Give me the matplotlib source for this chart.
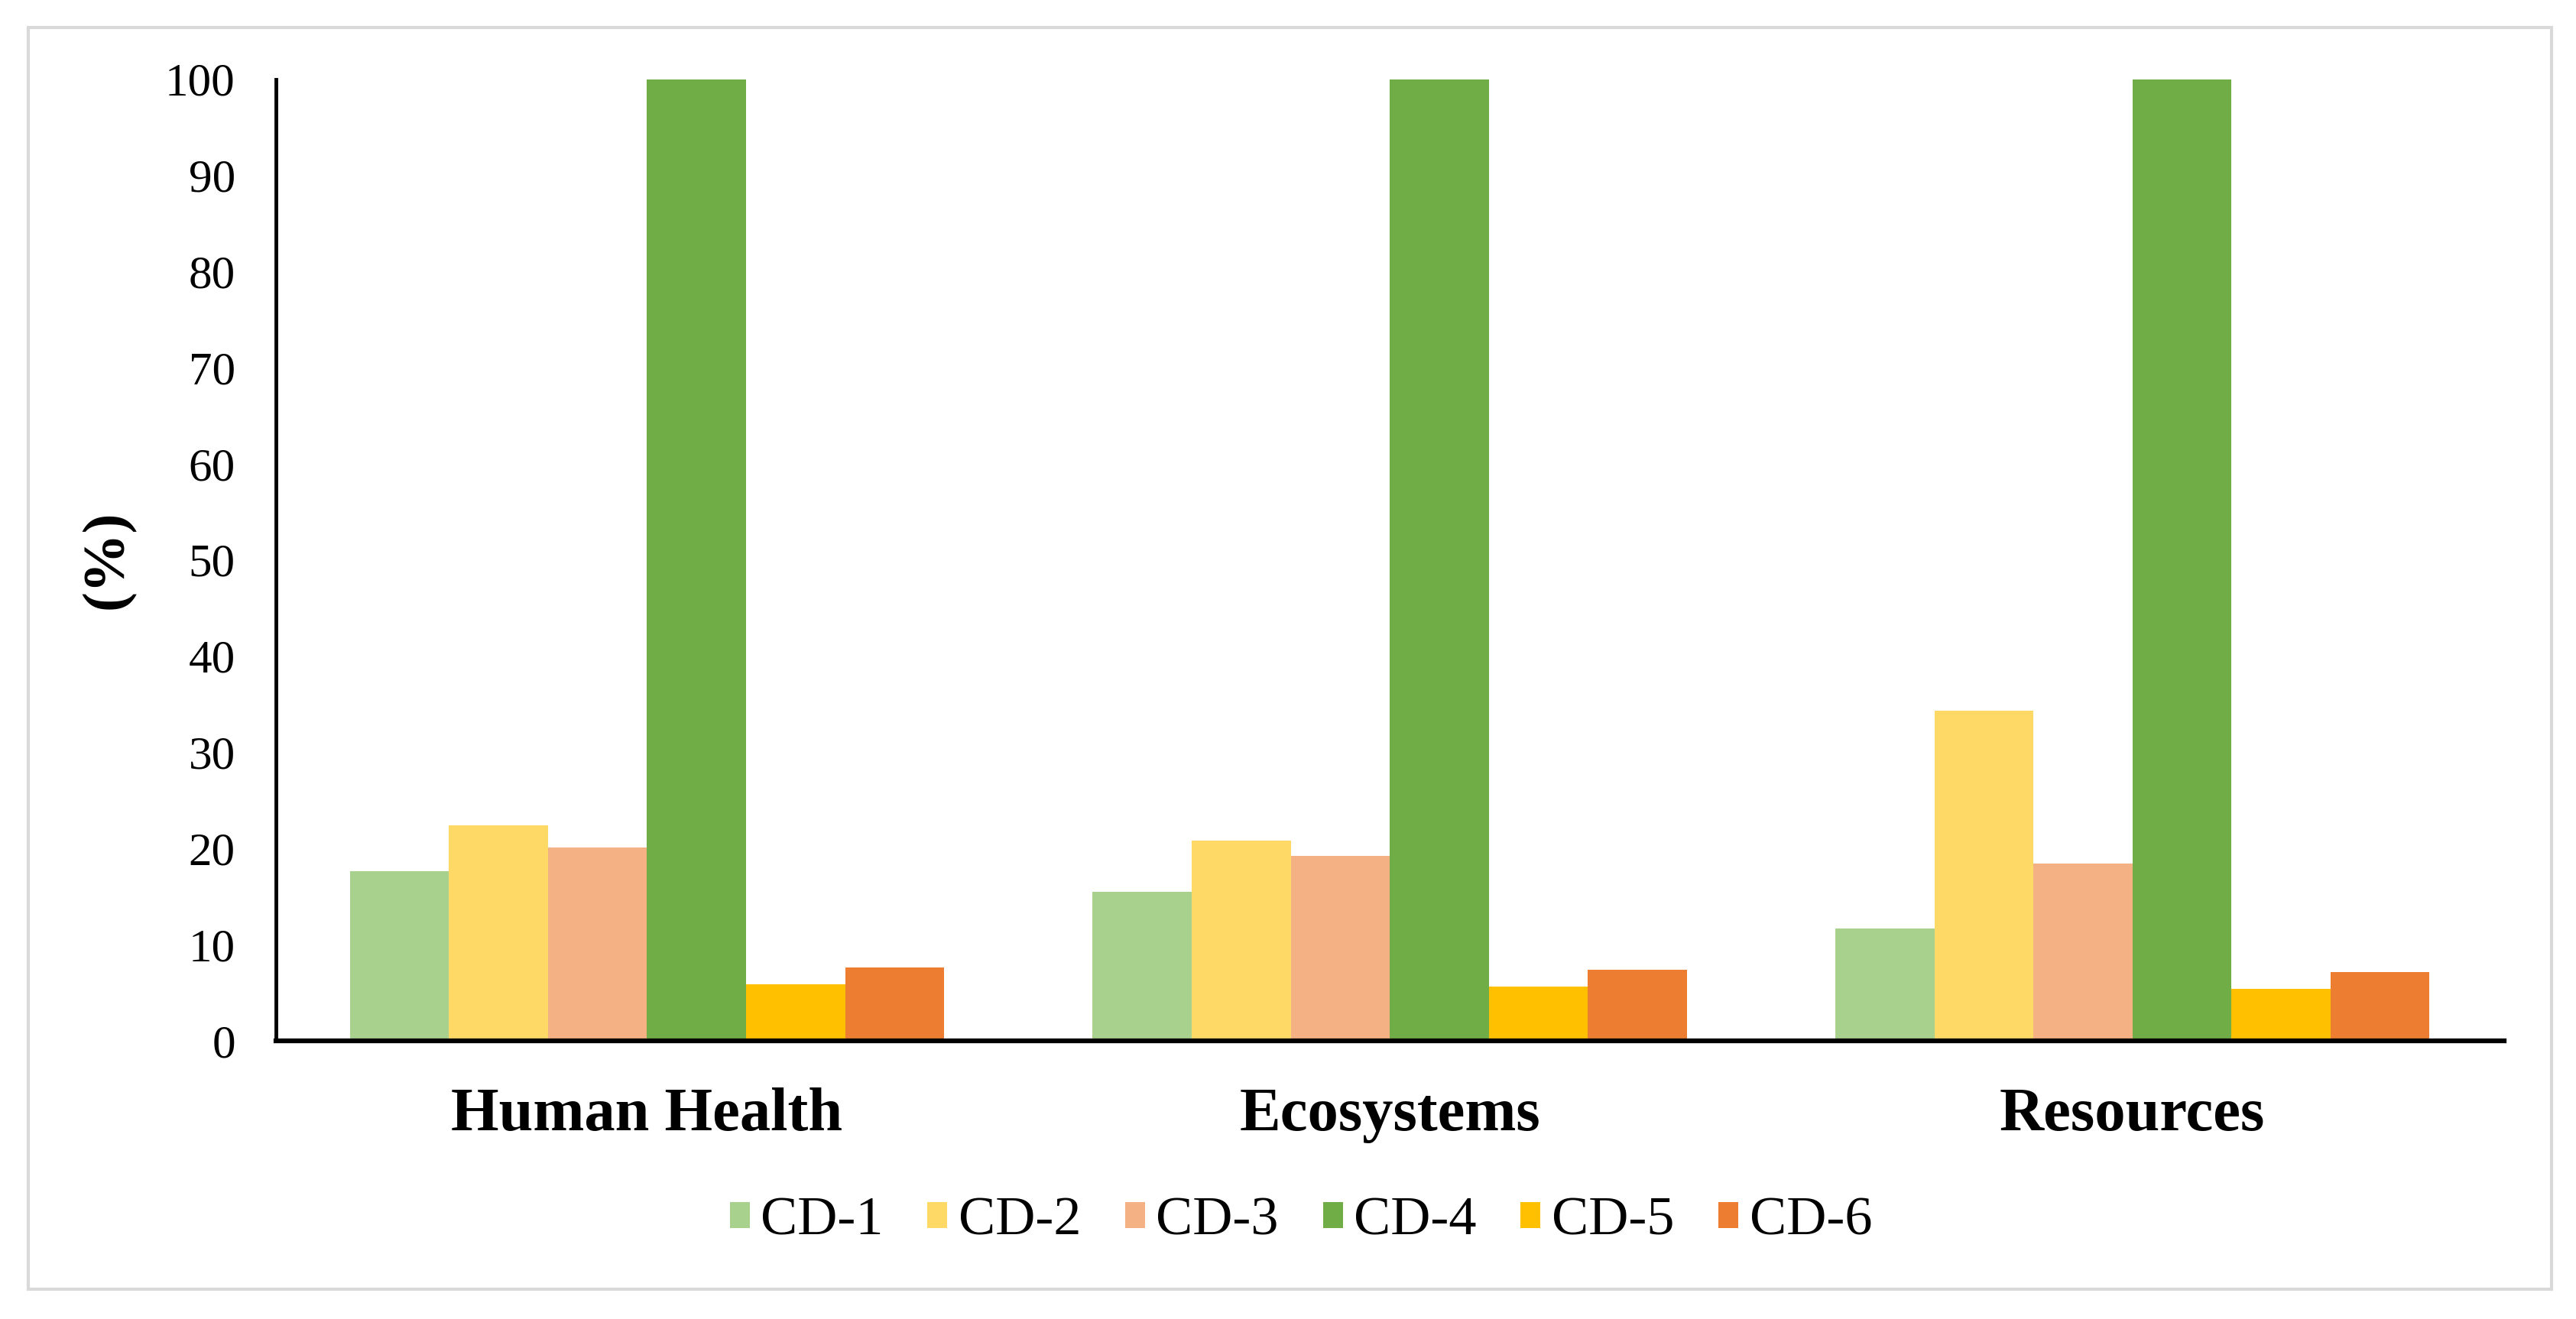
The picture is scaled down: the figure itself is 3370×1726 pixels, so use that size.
import matplotlib
matplotlib.use("Agg")
import matplotlib.pyplot as plt
from matplotlib.patches import Rectangle
import numpy as np

categories = ["Human Health", "Ecosystems", "Resources"]
series_names = ["CD-1", "CD-2", "CD-3", "CD-4", "CD-5", "CD-6"]
cd1 = [17.6, 15.5, 11.7]
cd2 = [22.4, 20.8, 34.3]
cd3 = [20.1, 19.2, 18.4]
cd4 = [100.0, 100.0, 100.0]
cd5 = [5.9, 5.6, 5.4]
cd6 = [7.6, 7.4, 7.1]
series_values = [cd1, cd2, cd3, cd4, cd5, cd6]
colors = ["#A9D18E", "#FFD966", "#F4B183", "#70AD47", "#FFC000", "#ED7D31"]
yticks = [0, 10, 20, 30, 40, 50, 60, 70, 80, 90, 100]

plt.rcParams['font.family'] = ['Liberation Serif', 'DejaVu Serif']

fig = plt.figure(figsize=(33.70, 17.26), dpi=100)
ax = fig.add_axes([0.107, 0.211, 0.865, 0.729])

n = len(series_names)
bw = 0.8 / n
x = np.arange(len(categories))
for i, (name, vals, c) in enumerate(zip(series_names, series_values, colors)):
    ax.bar(x - 0.4 + bw * (i + 0.5), vals, width=bw, color=c, label=name,
           edgecolor='none', zorder=2)

ax.set_xlim(-0.5, len(categories) - 0.5)
ax.set_ylim(0, 100)
ax.set_yticks(yticks)
ax.set_yticklabels([str(t) for t in yticks], fontsize=44)
ax.set_xticks(x)
ax.set_xticklabels(categories, fontsize=58, fontweight='bold')
ax.tick_params(axis='y', length=0, pad=38)
ax.tick_params(axis='x', length=0, pad=44)

for s in ['top', 'right']:
    ax.spines[s].set_visible(False)
ax.spines['left'].set_linewidth(3.5)
ax.spines['bottom'].set_linewidth(4.5)
ax.spines['left'].set_zorder(3)
ax.spines['bottom'].set_zorder(3)

ax.set_ylabel("(%)", fontsize=56, fontweight='bold')
ax.yaxis.set_label_coords(-0.063, 0.5)

fig.legend(loc='center', bbox_to_anchor=(0.505, 0.074), ncol=6, frameon=False,
           fontsize=52, handlelength=0.36, handleheight=0.36, handletextpad=0.2,
           columnspacing=0.8)

fig.patches.append(Rectangle((37 / 3370, 1 - 1687 / 1726), (3338 - 37) / 3370,
                             (1687 - 36) / 1726, transform=fig.transFigure,
                             fill=False, edgecolor='#D9D9D9', linewidth=3))

fig.savefig("out.png", dpi=100, facecolor='white')
